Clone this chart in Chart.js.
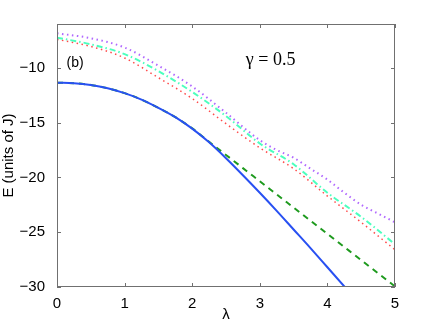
<!DOCTYPE html>
<html>
<head>
<meta charset="utf-8">
<script src="https://cdn.jsdelivr.net/npm/chart.js@4"></script>
<style>
  html, body { margin: 0; padding: 0; background: #fff; }
</style>
</head>
<body>
<canvas id="chart" width="436" height="324"></canvas>
<script>
// values
const lambdaA = [0, 0.25, 0.5, 0.75, 1.0, 1.25, 1.5, 1.75, 2.0, 2.25, 2.5, 2.75, 3.0, 3.25, 3.5, 3.75, 4.0, 4.25, 4.5];
const solidE  = [-11.36, -11.4, -11.56, -11.86, -12.31, -12.9, -13.65, -14.5, -15.55, -16.8, -18.25, -19.8, -21.4, -23.05, -24.75, -26.45, -28.2, -29.95, -31.7];

const lambdaB = [0, 0.25, 0.5, 0.75, 1.0, 1.25, 1.5, 1.75, 2.0, 2.25, 2.5, 2.75, 3.0, 3.5, 4.0, 4.5, 5.0];
const dashedE = [-11.36, -11.4, -11.56, -11.86, -12.31, -12.9, -13.65, -14.5, -15.52, -16.75, -17.95, -19.15, -20.35, -22.75, -25.15, -27.55, -29.95];

const lambdaC = [0, 0.5, 1.0, 1.5, 2.0, 2.5, 3.0, 3.25, 3.5, 3.75, 4.0, 4.25, 4.5, 4.75, 5.0];
const purpleE = [-6.85, -7.3, -8.15, -9.8, -11.7, -14.1, -16.6, -17.5, -18.2, -19.2, -20.2, -21.4, -22.5, -23.3, -24.1];

const lambdaD = [0, 0.5, 1.0, 1.5, 2.0, 2.5, 3.0, 3.5, 4.0, 4.5, 5.0];
const cyanE   = [-7.25, -7.85, -8.75, -10.3, -12.2, -14.4, -16.9, -18.8, -21.4, -23.6, -26.1];
const redE    = [-7.4, -8.05, -9.1, -10.9, -12.8, -15.1, -17.3, -19.2, -21.7, -24.1, -26.6];

const xTicks = [0, 1, 2, 3, 4, 5];
const yTicks = [-30, -25, -20, -15, -10];

const pts = (xs, ys) => xs.map((x, i) => ({ x: x, y: ys[i] }));
const minus = v => String(v).replace('-', '\u2212');

const frame = {
    id: 'frame',
    afterDatasetsDraw(chart) {
        const { ctx, chartArea: a, scales } = chart;
        ctx.save();
        ctx.strokeStyle = '#707070';
        ctx.lineWidth = 1;
        ctx.strokeRect(a.left + 0.5, a.top + 0.5, a.right - a.left - 1, a.bottom - a.top - 1);
        ctx.beginPath();
        xTicks.forEach(v => {
            const p = Math.round(scales.x.getPixelForValue(v)) + 0.5;
            ctx.moveTo(p, a.bottom); ctx.lineTo(p, a.bottom - 4);
            ctx.moveTo(p, a.top); ctx.lineTo(p, a.top + 4);
        });
        yTicks.forEach(v => {
            const p = Math.round(scales.y.getPixelForValue(v)) + 0.5;
            ctx.moveTo(a.left, p); ctx.lineTo(a.left + 4, p);
            ctx.moveTo(a.right, p); ctx.lineTo(a.right - 4, p);
        });
        ctx.stroke();

        ctx.fillStyle = '#000';
        ctx.textBaseline = 'middle';
        ctx.font = '14px "Liberation Sans", Arial, sans-serif';
        ctx.fillText('(b)', scales.x.getPixelForValue(0.14), scales.y.getPixelForValue(-9.6));
        ctx.font = '18px "Liberation Serif", "Times New Roman", serif';
        ctx.textAlign = 'center';
        ctx.fillText('\u03b3 = 0.5', scales.x.getPixelForValue(3.16), scales.y.getPixelForValue(-9.3));
        ctx.restore();
    }
};

const common = { pointRadius: 0, fill: false, cubicInterpolationMode: 'monotone' };

new Chart(document.getElementById('chart'), {
    type: 'line',
    data: {
        datasets: [
            { ...common, data: pts(lambdaA, solidE), borderColor: '#2850f2', borderWidth: 2 },
            { ...common, data: pts(lambdaB, dashedE), borderColor: '#1e9a1e', borderWidth: 2, borderDash: [6, 5] },
            { ...common, data: pts(lambdaC, purpleE), borderColor: '#b068ff', borderWidth: 2, borderDash: [1.5, 3.5] },
            { ...common, data: pts(lambdaD, cyanE), borderColor: '#4cffbe', borderWidth: 2, borderDash: [6, 3, 1.5, 3] },
            { ...common, data: pts(lambdaD, redE), borderColor: '#ff4a4a', borderWidth: 1.5, borderDash: [1.5, 3.5] }
        ]
    },
    options: {
        responsive: false,
        maintainAspectRatio: false,
        animation: false,
        layout: { padding: { top: 24, right: 41, left: 0, bottom: 0 } },
        plugins: { legend: { display: false }, tooltip: { enabled: false } },
        scales: {
            x: {
                type: 'linear', min: 0, max: 5,
                afterBuildTicks: s => { s.ticks = xTicks.map(v => ({ value: v })); },
                afterFit: s => { s.height = 37; },
                grid: { display: false },
                border: { display: false },
                ticks: { color: '#000', padding: 0, font: { size: 15, family: '"Liberation Sans", Arial, sans-serif' }, maxRotation: 0 },
                title: { display: true, text: '\u03bb', color: '#000', padding: { top: 0, bottom: 0 }, font: { size: 15, family: '"Liberation Sans", Arial, sans-serif' } }
            },
            y: {
                type: 'linear', min: -30, max: -6,
                afterBuildTicks: s => { s.ticks = yTicks.map(v => ({ value: v })); },
                afterFit: s => { s.width = 57; },
                grid: { display: false },
                border: { display: false },
                ticks: { color: '#000', padding: 4, callback: v => minus(v), font: { size: 15, family: '"Liberation Sans", Arial, sans-serif' } },
                title: { display: true, text: 'E (units of J)', color: '#000', padding: { top: 0, bottom: 0 }, font: { size: 15, family: '"Liberation Sans", Arial, sans-serif' } }
            }
        }
    },
    plugins: [frame]
});
</script>
</body>
</html>
